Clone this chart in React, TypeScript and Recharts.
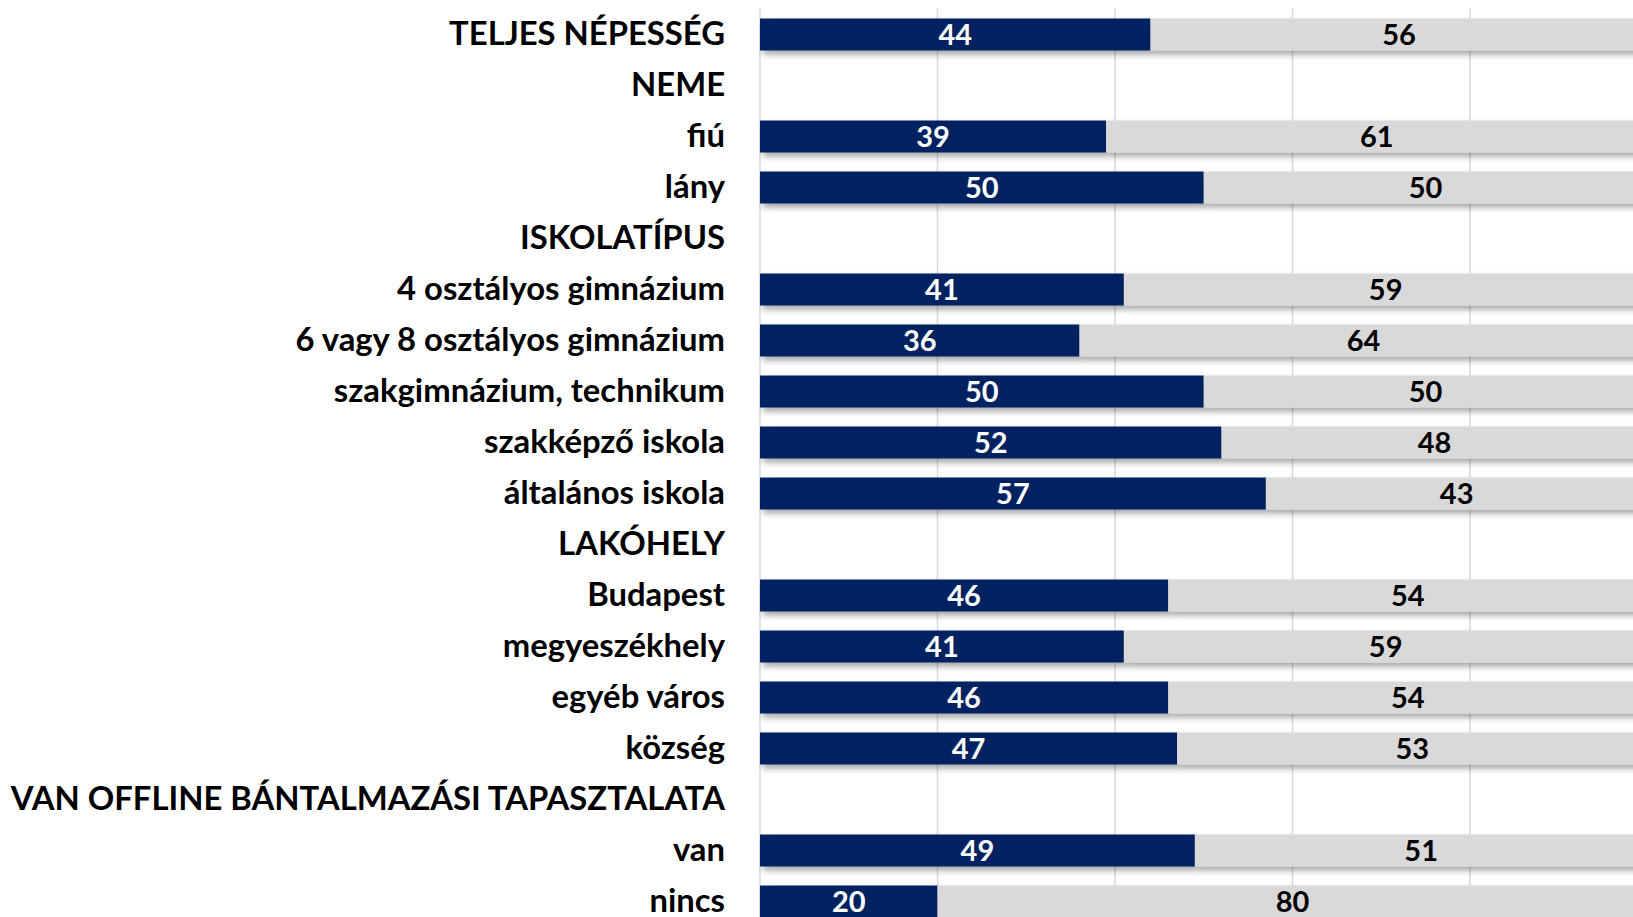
import React from "react";
import { BarChart, Bar, XAxis, YAxis, CartesianGrid, LabelList } from "recharts";

const categories: string[] = [
  "TELJES NÉPESSÉG",
  "NEME",
  "fiú",
  "lány",
  "ISKOLATÍPUS",
  "4 osztályos gimnázium",
  "6 vagy 8 osztályos gimnázium",
  "szakgimnázium, technikum",
  "szakképző iskola",
  "általános iskola",
  "LAKÓHELY",
  "Budapest",
  "megyeszékhely",
  "egyéb város",
  "község",
  "VAN OFFLINE BÁNTALMAZÁSI TAPASZTALATA",
  "van",
  "nincs",
];

const yesValues: (number | null)[] = [44, null, 39, 50, null, 41, 36, 50, 52, 57, null, 46, 41, 46, 47, null, 49, 20];
const noValues: (number | null)[] = [56, null, 61, 50, null, 59, 64, 50, 48, 43, null, 54, 59, 54, 53, null, 51, 80];
const xTicks: number[] = [0, 20, 40, 60, 80, 100];

const data = categories.map((name, i) => ({ name, yes: yesValues[i], no: noValues[i] }));

const FONT = "Lato, 'Open Sans', sans-serif";

const ShadowRect = (props: any) => {
  const { x, y, width, height, fill } = props;
  if (!width || width <= 0) return null;
  return <rect x={x} y={y} width={width} height={height} fill={fill} filter="url(#barShadow)" />;
};

const YTick = (props: any) => {
  const { x, y, payload } = props;
  return (
    <text
      x={x}
      y={y}
      dy={11}
      textAnchor="end"
      fill="#000"
      fontFamily={FONT}
      fontWeight={700}
      fontSize={32.8}
    >
      {payload.value}
    </text>
  );
};

export default function App() {
  return (
    <div style={{ position: "fixed", left: 0, top: 0, width: 1633, height: 917, overflow: "hidden", background: "#fff" }}>
      <BarChart
        width={1660}
        height={940}
        data={data}
        layout="vertical"
        margin={{ top: 8.5, right: 12.5, bottom: 13.5, left: 0 }}
        barSize={32}
      >
        <defs>
          <filter id="barShadow" x="-5%" y="-30%" width="115%" height="180%">
            <feDropShadow dx="3" dy="4" stdDeviation="3" floodColor="#000" floodOpacity="0.35" />
          </filter>
        </defs>
        <CartesianGrid horizontal={false} stroke="#D9D9D9" strokeWidth={1.5} />
        <XAxis type="number" domain={[0, 100]} ticks={xTicks} hide />
        <YAxis
          type="category"
          dataKey="name"
          width={760}
          axisLine={false}
          tickLine={false}
          interval={0}
          tick={<YTick />}
          tickMargin={29}
        />
        <Bar dataKey="yes" stackId="a" fill="#002060" isAnimationActive={false} shape={<ShadowRect />}>
          <LabelList dataKey="yes" position="center" fill="#FFFFFF" fontFamily={FONT} fontWeight={700} fontSize={29} />
        </Bar>
        <Bar dataKey="no" stackId="a" fill="#D9D9D9" isAnimationActive={false} shape={<ShadowRect />}>
          <LabelList dataKey="no" position="center" fill="#000000" fontFamily={FONT} fontWeight={700} fontSize={29} />
        </Bar>
      </BarChart>
    </div>
  );
}
